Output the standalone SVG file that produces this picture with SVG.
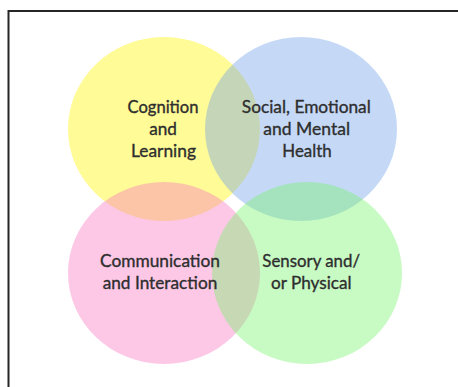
<svg xmlns="http://www.w3.org/2000/svg" width="458" height="387" viewBox="0 0 458 387">
  <style>
    .frame { fill: #ffffff; stroke: #262626; stroke-width: 2; }
    .set { stroke: none; }
    .label { font-family: Lato, "Noto Sans", "Liberation Sans", sans-serif; font-size: 17.5px; fill: #2e2e2e; stroke: #2e2e2e; stroke-width: 0.35; text-anchor: middle; }
  </style>
  <rect width="458" height="387" fill="#ffffff"/>
  <!-- page frame, running off the right and bottom edges -->
  <rect class="frame" x="8.5" y="11" width="470" height="400"/>

  <!-- four overlapping needs areas -->
  <g id="cognition-learning">
    <ellipse class="set" cx="164" cy="129" rx="96" ry="92" fill="#fffb96"/>
  </g>
  <g id="social-emotional-mental-health">
    <ellipse class="set" cx="301" cy="129" rx="96" ry="92" fill="#6ea0eb" fill-opacity="0.4"/>
  </g>
  <g id="communication-interaction">
    <ellipse class="set" cx="164" cy="273" rx="96" ry="91" fill="#f876c1" fill-opacity="0.4"/>
  </g>
  <g id="sensory-physical">
    <ellipse class="set" cx="307" cy="273" rx="95" ry="91" fill="#76f369" fill-opacity="0.4"/>
  </g>

  <g id="labels">
    <text class="label" x="163" y="112.7" textLength="71" lengthAdjust="spacingAndGlyphs">Cognition</text>
    <text class="label" x="163" y="135" textLength="27.7" lengthAdjust="spacingAndGlyphs">and</text>
    <text class="label" x="163.5" y="157" textLength="65" lengthAdjust="spacingAndGlyphs">Learning</text>

    <text class="label" x="306.3" y="112.7" textLength="129" lengthAdjust="spacingAndGlyphs">Social, Emotional</text>
    <text class="label" x="306.7" y="135" textLength="86.7" lengthAdjust="spacingAndGlyphs">and Mental</text>
    <text class="label" x="307" y="157" textLength="49.4" lengthAdjust="spacingAndGlyphs">Health</text>

    <text class="label" x="160" y="266.7" textLength="120" lengthAdjust="spacingAndGlyphs">Communication</text>
    <text class="label" x="160" y="288.7" textLength="114.6" lengthAdjust="spacingAndGlyphs">and Interaction</text>

    <text class="label" x="311.2" y="266.7" textLength="97.7" lengthAdjust="spacingAndGlyphs">Sensory and/</text>
    <text class="label" x="311.3" y="288.7" textLength="80.7" lengthAdjust="spacingAndGlyphs">or Physical</text>
  </g>
</svg>
